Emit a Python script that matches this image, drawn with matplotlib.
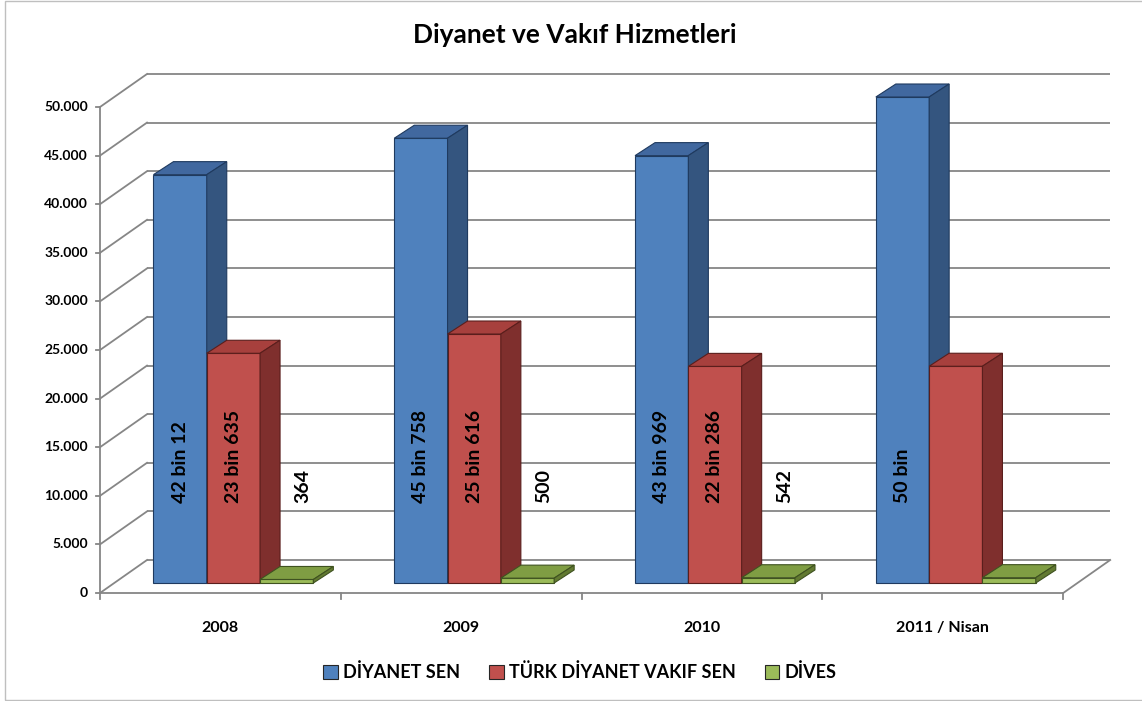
import matplotlib
matplotlib.use('Agg')
import matplotlib.pyplot as plt
import numpy as np
from matplotlib.patches import Polygon, Patch, Rectangle

plt.rcParams['font.family'] = ['Lato', 'DejaVu Sans']
plt.rcParams['font.weight'] = 'bold'

# veriler
years = ['2008', '2009', '2010', '2011 / Nisan']
series_names = ['DİYANET SEN', 'TÜRK DİYANET VAKIF SEN', 'DİVES']
diyanet_sen = [42012, 45758, 43969, 50000]
turk_diyanet = [23635, 25616, 22286, 22300]
dives = [364, 500, 542, 550]
labels_diyanet = ['42 bin 12', '45 bin 758', '43 bin 969', '50 bin']
labels_turk = ['23 bin 635', '25 bin 616', '22 bin 286', '']
labels_dives = ['364', '500', '542', '']
yticks = np.arange(0, 50001, 5000)

values = [diyanet_sen, turk_diyanet, dives]
labels = [labels_diyanet, labels_turk, labels_dives]
# renkler: on yuz, ust yuz, yan yuz, kenar
colors = [('#4F81BD', '#41689F', '#34557F', '#1F3A5F'),
          ('#C0504D', '#A7403D', '#7F2F2D', '#5A1E1C'),
          ('#9BBB59', '#7F9D43', '#627A31', '#3F5220')]

# piksel olcekleri (figur 1142x701)
W, H = 1142, 701
px_cat = 240.8
px_val = 486 / 50000.
x_left_px, y0_px = 100, 593

fig = plt.figure(figsize=(W / 100, H / 100), dpi=100)
ax = fig.add_axes([0, 0, 1, 1])
x0 = -0.5 - x_left_px / px_cat
ax.set_xlim(x0, x0 + W / px_cat)
ax.set_ylim((y0_px - H) / px_val, y0_px / px_val)
ax.axis('off')

# cerceve
fig.patches.append(Rectangle((5 / W, 1 - 700 / H), 1.2, 699 / H, transform=fig.transFigure,
                             fill=False, edgecolor='#BFBFBF', lw=1))

# derinlik vektoru (arka duvar)
dx, dy = 47 / px_cat, 33 / px_val
gc = '#868686'
glw = 1.3
xa, xb = -0.5, 3.5
for v in yticks:
    ax.plot([xa + dx, xb + dx], [v + dy, v + dy], color=gc, lw=glw, zorder=1, solid_capstyle='butt')
    ax.plot([xa, xa + dx], [v, v + dy], color=gc, lw=glw, zorder=1)
    ax.plot([xa - 4 / px_cat, xa], [v, v], color=gc, lw=glw, zorder=1)
    ax.text(xa - 12 / px_cat, v, '{:,}'.format(v).replace(',', '.'), ha='right', va='center',
            fontsize=10, fontweight='bold', color='black')
ax.plot([xa, xa], [0, 50000], color=gc, lw=glw, zorder=1)
ax.plot([xa, xb], [0, 0], color=gc, lw=glw, zorder=1)
ax.plot([xb, xb + dx], [0, dy], color=gc, lw=glw, zorder=1)
for k in range(5):
    xt = xa + k
    ax.plot([xt, xt], [0, -6 / px_val], color=gc, lw=glw, zorder=1)
for i, yr in enumerate(years):
    ax.text(i, -35 / px_val, yr, ha='center', va='center', fontsize=11.5, fontweight='bold')

# cubuklar
off_x, off_y = 13 / px_cat, 10 / px_val
bw = 53.3 / px_cat
sdx, sdy = 20 / px_cat, 13 / px_val
xs = np.arange(len(years))
for s in range(3):
    front, top, side, edge = colors[s]
    left = xs - 1.5 * bw + s * bw + off_x
    ax.bar(left, values[s], width=bw, bottom=off_y, align='edge', color=front,
           edgecolor=edge, lw=0.8, zorder=3 + s)
    for i in range(len(years)):
        l = left[i]
        r = l + bw
        t = off_y + values[s][i]
        b = off_y
        ax.add_patch(Polygon([(l, t), (r, t), (r + sdx, t + sdy), (l + sdx, t + sdy)],
                             closed=True, facecolor=top, edgecolor=edge, lw=0.8, zorder=3 + s))
        ax.add_patch(Polygon([(r, b), (r + sdx, b + sdy), (r + sdx, t + sdy), (r, t)],
                             closed=True, facecolor=side, edgecolor=edge, lw=0.8, zorder=3 + s))
        lx = l + bw / 2 + (16 / px_cat if s == 2 else 0)
        if labels[s][i]:
            ax.text(lx, off_y + 80 / px_val, labels[s][i], rotation=90, ha='center', va='bottom',
                    fontsize=14, fontweight='bold', color='black', zorder=10)

ax.text(575 / px_cat + x0, (y0_px - 35) / px_val, 'Diyanet ve Vakıf Hizmetleri', ha='center',
        va='center', fontsize=19, fontweight='bold')

handles = [Patch(facecolor=c[0], edgecolor='#262626', lw=0.8) for c in colors]
fig.legend(handles, series_names, loc='center', bbox_to_anchor=(580 / W, 1 - 672 / H), ncol=3,
           frameon=False, handlelength=0.8, handleheight=0.8, handletextpad=0.3, columnspacing=1.6,
           prop={'size': 13, 'weight': 'bold'})

fig.savefig('out.png', dpi=100)
